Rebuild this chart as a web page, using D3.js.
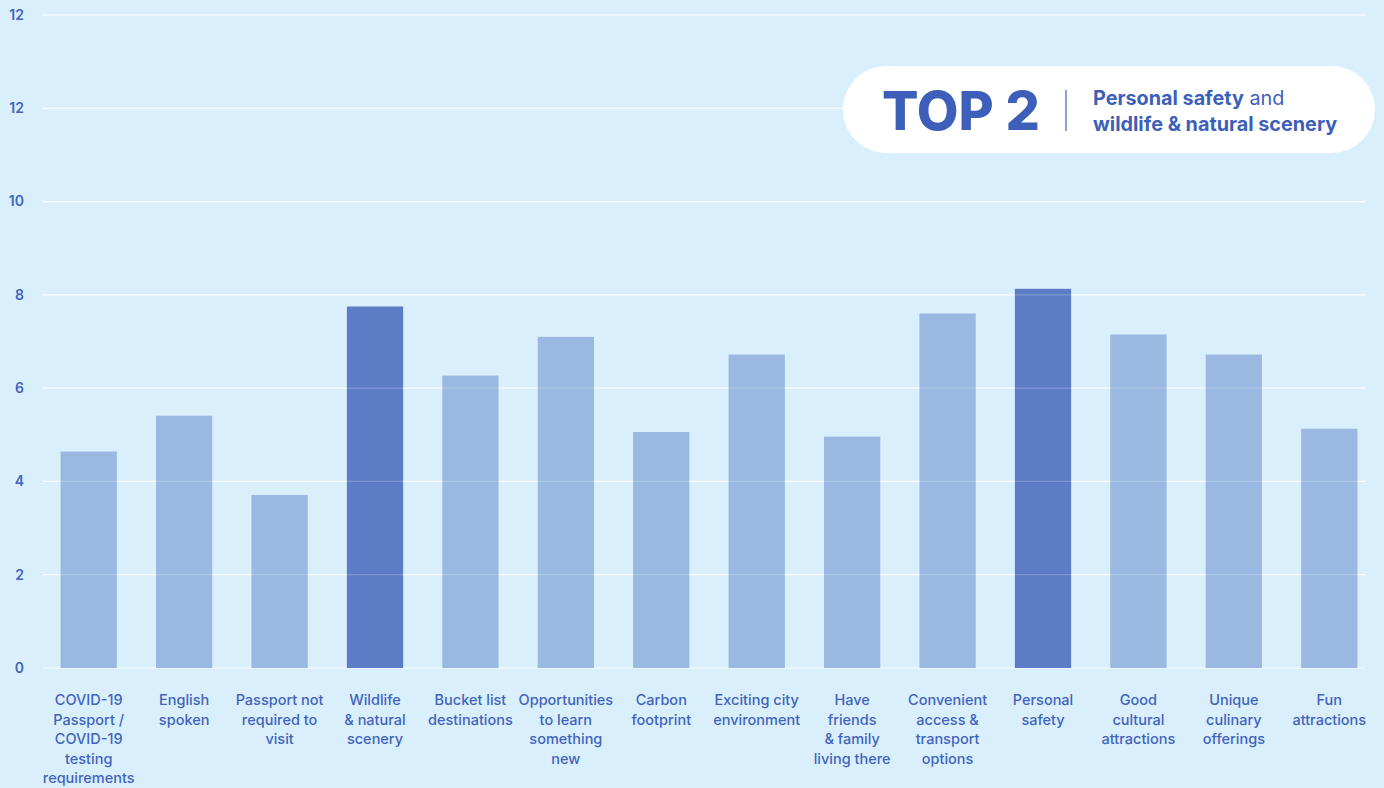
<!DOCTYPE html>
<html>
<head>
<meta charset="utf-8">
<script src="https://cdn.jsdelivr.net/npm/d3@7"></script>
<style>
  html, body { margin: 0; padding: 0; background: #d9f0fc; }
  svg { display: block; font-family: "Inter", "Lato", sans-serif; }
</style>
</head>
<body>
<svg id="chart"></svg>
<script>
const width = 1384
const height = 788

// data
const categories = [
    ["COVID-19", "Passport /", "COVID-19", "testing", "requirements"],
    ["English", "spoken"],
    ["Passport not", "required to", "visit"],
    ["Wildlife", "& natural", "scenery"],
    ["Bucket list", "destinations"],
    ["Opportunities", "to learn", "something", "new"],
    ["Carbon", "footprint"],
    ["Exciting city", "environment"],
    ["Have", "friends", "& family", "living there"],
    ["Convenient", "access &", "transport", "options"],
    ["Personal", "safety"],
    ["Good", "cultural", "attractions"],
    ["Unique", "culinary", "offerings"],
    ["Fun", "attractions"]
];
const values = [4.64, 5.41, 3.71, 7.75, 6.27, 7.10, 5.06, 6.72, 4.96, 7.60, 8.13, 7.15, 6.72, 5.13];
const highlighted = [3, 10];
const tickValues = [0, 2, 4, 6, 8, 10, 12, 14];
const tickLabels = ["0", "2", "4", "6", "8", "10", "12", "12"];

const textColor = "#4263bd"
const lightBar = "#9ab8e1"
const darkBar = "#5c7dc5"

const svg = d3.select("#chart")
    .attr("width", width)
    .attr("height", height);

svg.append("rect")
    .attr("width", width)
    .attr("height", height)
    .attr("fill", "#d9f0fc");

const x = d3.scaleBand()
    .domain(d3.range(categories.length))
    .range([41, 1377])
    .paddingInner(0.41)
    .paddingOuter(0.205);

const y = d3.scaleLinear()
    .domain([0, 14])
    .range([668, 15]);

// gridlines + tick labels
const grid = svg.append("g");
grid.selectAll("line")
    .data(tickValues)
    .enter()
    .append("line")
        .attr("x1", 43)
        .attr("x2", 1365)
        .attr("y1", d => y(d))
        .attr("y2", d => y(d))
        .attr("stroke", "#ffffff")
        .attr("stroke-opacity", 0.85)
        .attr("stroke-width", 1.2);

grid.selectAll("text")
    .data(tickValues)
    .enter()
    .append("text")
        .attr("x", 24)
        .attr("y", d => y(d))
        .attr("dy", "0.35em")
        .attr("text-anchor", "end")
        .attr("fill", textColor)
        .attr("font-size", 14)
        .attr("font-weight", 600)
        .text((d, i) => tickLabels[i]);

// bars
svg.append("g")
    .selectAll("rect")
    .data(values)
    .enter()
    .append("rect")
        .attr("x", (d, i) => x(i))
        .attr("width", x.bandwidth())
        .attr("y", d => y(d))
        .attr("height", d => y(0) - y(d))
        .attr("fill", (d, i) => highlighted.includes(i) ? darkBar : lightBar);

// faint gridlines showing through the bars
svg.append("g")
    .selectAll("line")
    .data(tickValues.slice(1))
    .enter()
    .append("line")
        .attr("x1", 43)
        .attr("x2", 1365)
        .attr("y1", d => y(d))
        .attr("y2", d => y(d))
        .attr("stroke", "#ffffff")
        .attr("stroke-opacity", 0.2)
        .attr("stroke-width", 1.2);

// category labels
const labels = svg.append("g")
    .selectAll("text")
    .data(categories)
    .enter()
    .append("text")
        .attr("x", (d, i) => x(i) + x.bandwidth() / 2)
        .attr("y", 705)
        .attr("text-anchor", "middle")
        .attr("fill", textColor)
        .attr("font-size", 14.5)
        .attr("font-weight", 500);

labels.selectAll("tspan")
    .data(d => d)
    .enter()
    .append("tspan")
        .attr("x", function() { return this.parentNode.getAttribute("x"); })
        .attr("dy", (d, i) => i === 0 ? 0 : 19.5)
        .text(d => d);

// TOP 2 callout
const callout = svg.append("g");
callout.append("rect")
    .attr("x", 843)
    .attr("y", 66)
    .attr("width", 532)
    .attr("height", 87)
    .attr("rx", 43.5)
    .attr("fill", "#ffffff");

callout.append("text")
    .attr("x", 882)
    .attr("y", 130)
    .attr("fill", "#3d5fb9")
    .attr("font-size", 54)
    .attr("font-weight", 800)
    .text("TOP 2");

callout.append("line")
    .attr("x1", 1066)
    .attr("x2", 1066)
    .attr("y1", 90)
    .attr("y2", 131)
    .attr("stroke", "#3d5fb9")
    .attr("stroke-width", 1.2);

const line1 = callout.append("text")
    .attr("x", 1093)
    .attr("y", 105)
    .attr("fill", "#3d5fb9")
    .attr("font-size", 19.8);
line1.append("tspan").attr("font-weight", 700).text("Personal safety");
line1.append("tspan").attr("font-weight", 400).text(" and");

callout.append("text")
    .attr("x", 1093)
    .attr("y", 131)
    .attr("fill", "#3d5fb9")
    .attr("font-size", 19.8)
    .attr("font-weight", 700)
    .text("wildlife & natural scenery");
</script>
</body>
</html>
